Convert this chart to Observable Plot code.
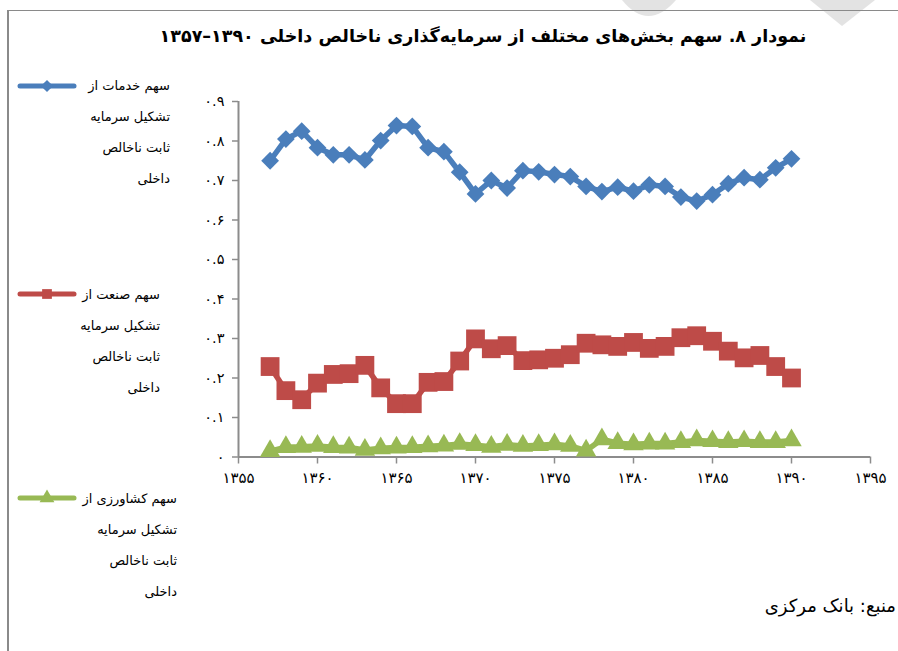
<!DOCTYPE html>
<html>
<head>
<meta charset="utf-8">
<script src="https://cdn.jsdelivr.net/npm/d3@7"></script>
<script src="https://cdn.jsdelivr.net/npm/@observablehq/plot@0.6"></script>
<style>
  html, body { margin: 0; padding: 0; background: #fff; }
  #wrap { position: relative; width: 898px; height: 651px; overflow: hidden; font-family: "DejaVu Sans", sans-serif; }
  #chart { position: absolute; left: 0; top: 0; }
  .title { position: absolute; left: 103px; width: 760px; top: 26px; text-align: center; direction: rtl; font-weight: bold; font-size: 17.5px; color: #000; white-space: nowrap; }
  .leg { position: absolute; direction: rtl; text-align: right; font-size: 13px; line-height: 31px; color: #000; white-space: nowrap; }
  .swatch { position: absolute; }
  .caption { position: absolute; right: 2px; top: 595px; direction: rtl; font-size: 18px; color: #000; white-space: nowrap; }
  .frameTop { position: absolute; left: 8px; top: 10px; width: 890px; height: 0; border-top: 1.5px solid #8a8a8a; }
  .frameLeft { position: absolute; left: 7px; top: 10px; width: 0; height: 641px; border-left: 2px solid #8a8a8a; }
</style>
</head>
<body>
<div id="wrap">
  <svg class="swatch" style="left:0;top:0" width="898" height="40">
    <path d="M622,0 Q648,32 676,0 Z" fill="#e3e3e3"/>
    <path d="M810,0 L842,26 L875,0 Z" fill="#e3e3e3"/>
  </svg>
  <div class="frameTop"></div>
  <div class="frameLeft"></div>
  <div class="title">نمودار ۸. سهم بخش‌های مختلف از سرمایه‌گذاری ناخالص داخلی ۱۳۹۰–۱۳۵۷</div>
  <div id="chart"></div>
  <div id="legend"></div>
  <div class="caption">منبع: بانک مرکزی</div>
</div>
<script>
// ---- data ----
const years = [1357,1358,1359,1360,1361,1362,1363,1364,1365,1366,1367,1368,1369,1370,1371,1372,1373,1374,1375,1376,1377,1378,1379,1380,1381,1382,1383,1384,1385,1386,1387,1388,1389,1390];
const services = [0.750,0.805,0.825,0.783,0.765,0.765,0.752,0.801,0.839,0.837,0.783,0.773,0.721,0.666,0.700,0.681,0.725,0.722,0.715,0.710,0.685,0.672,0.683,0.673,0.689,0.685,0.658,0.648,0.664,0.692,0.707,0.702,0.732,0.755];
const industry = [0.229,0.168,0.145,0.187,0.209,0.211,0.232,0.175,0.135,0.135,0.189,0.191,0.243,0.299,0.274,0.282,0.244,0.246,0.250,0.259,0.288,0.284,0.280,0.290,0.275,0.280,0.302,0.307,0.293,0.268,0.251,0.257,0.229,0.200];
const agriculture = [0.015,0.025,0.026,0.028,0.025,0.024,0.018,0.022,0.024,0.025,0.027,0.029,0.033,0.030,0.026,0.031,0.028,0.030,0.032,0.028,0.016,0.045,0.035,0.032,0.034,0.034,0.038,0.042,0.040,0.038,0.040,0.038,0.038,0.042];
const seriesNames = [
  ["سهم خدمات از", "تشکیل سرمایه", "ثابت ناخالص", "داخلی"],
  ["سهم صنعت از", "تشکیل سرمایه", "ثابت ناخالص", "داخلی"],
  ["سهم کشاورزی از", "تشکیل سرمایه", "ثابت ناخالص", "داخلی"]
];
const seriesColors = ["#4a7ebb", "#be4b48", "#98b954"];
const seriesSymbols = ["diamond2", "square", "triangle"];
const seriesR = [8, 10.6, 7.6];
const xTicks = [1355,1360,1365,1370,1375,1380,1385,1390,1395];
const yTicks = [0,0.1,0.2,0.3,0.4,0.5,0.6,0.7,0.8,0.9];

const fa = s => String(s).replace(/\d/g, d => "۰۱۲۳۴۵۶۷۸۹"[d]);
const values = [services, industry, agriculture];
const rows = values.map(v => years.map((yr, i) => ({year: yr, value: v[i]})));

const seriesMarks = [];
rows.forEach((data, k) => {
  seriesMarks.push(Plot.line(data, {x: "year", y: "value", stroke: seriesColors[k], strokeWidth: 5.5, strokeLinejoin: "round", strokeLinecap: "round"}));
  seriesMarks.push(Plot.dot(data, {x: "year", y: "value", symbol: seriesSymbols[k], r: seriesR[k], fill: seriesColors[k], stroke: null}));
});

const chart = Plot.plot({
  width: 898,
  height: 651,
  marginLeft: 238,
  marginRight: 28,
  marginTop: 101,
  marginBottom: 194.5,
  x: {domain: [1355, 1395], axis: null},
  y: {domain: [0, 0.9], axis: null},
  style: {fontFamily: "DejaVu Sans, sans-serif", fontSize: "15px", background: "transparent", color: "#000"},
  marks: [
    Plot.ruleY([0], {stroke: "#8c8c8c", strokeWidth: 2}),
    Plot.ruleX([1355], {stroke: "#8c8c8c", strokeWidth: 2}),
    Plot.axisX({ticks: xTicks, tickFormat: d => fa(d), tickSize: 7, tickPadding: 8, stroke: "#8c8c8c", strokeWidth: 1.5, fill: "#000", fontSize: 15, label: null}),
    Plot.axisY({ticks: yTicks, tickFormat: d => d === 0 ? "۰" : fa(d3.format(".1f")(d)), tickSize: 6, tickPadding: 8, stroke: "#8c8c8c", strokeWidth: 1.5, fill: "#000", fontSize: 14.5, label: null}),
    ...seriesMarks
  ]
});
document.getElementById("chart").appendChild(chart);

// ---- legend ----
const legendPos = [
  {top: 70, right: 170, sy: 86},
  {top: 279, right: 160, sy: 294},
  {top: 483, right: 177, sy: 498}
];
const legend = document.getElementById("legend");
seriesNames.forEach((lines, k) => {
  const p = legendPos[k];
  const div = document.createElement("div");
  div.className = "leg";
  div.style.top = p.top + "px";
  div.style.right = (898 - p.right) + "px";
  div.innerHTML = lines.join("<br>");
  legend.appendChild(div);
  const sw = d3.create("svg").attr("class", "swatch").attr("width", 70).attr("height", 24)
    .style("left", "14px").style("top", (p.sy - 12) + "px");
  sw.append("line").attr("x1", 6).attr("x2", 60).attr("y1", 12).attr("y2", 12)
    .attr("stroke", seriesColors[k]).attr("stroke-width", 5).attr("stroke-linecap", "round");
  const symMap = {diamond2: d3.symbolDiamond2, square: d3.symbolSquare, triangle: d3.symbolTriangle};
  sw.append("path").attr("transform", "translate(33,12)")
    .attr("d", d3.symbol(symMap[seriesSymbols[k]], 95)())
    .attr("fill", seriesColors[k]);
  legend.appendChild(sw.node());
});
</script>
</body>
</html>
